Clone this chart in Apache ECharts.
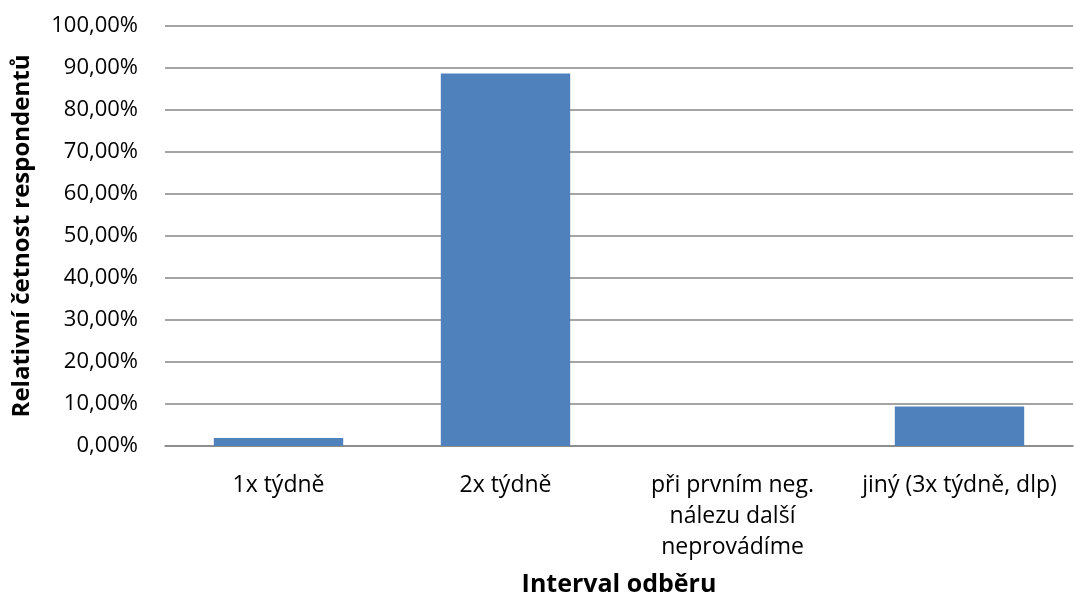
<!DOCTYPE html>
<html>
<head>
<meta charset="utf-8">
<script src="https://cdn.jsdelivr.net/npm/echarts@6/dist/echarts.min.js"></script>
<style>html,body{margin:0;padding:0;background:#fff}#c{width:1074px;height:599px}</style>
</head>
<body>
<div id="c"></div>
<script>
const categories = ["1x týdně", "2x týdně", "při prvním neg.\nnálezu další\nneprovádíme", "jiný (3x týdně, dlp)"];
const values = [1.89, 88.68, 0, 9.43];
const yTitle = "Relativní četnost respondentů";
const xTitle = "Interval odběru";

const FONT = "Open Sans";
const chart = echarts.init(document.getElementById('c'));
chart.setOption({
  animation: false,
  grid: {left: 165, right: 1, top: 26, bottom: 153, outerBoundsMode: 'none', containLabel: false},
  xAxis: {
    type: 'category', data: categories,
    name: xTitle, nameLocation: 'middle', nameGap: 126,
    nameTextStyle: {fontFamily: FONT, fontWeight: 'bold', fontSize: 25, color: '#000'},
    axisLine: {lineStyle: {color: '#868686', width: 1.5}},
    axisTick: {show: false},
    axisLabel: {fontFamily: FONT, fontSize: 23, color: '#000', margin: 24, lineHeight: 31, interval: 0}
  },
  yAxis: {
    type: 'value', min: 0, max: 100, interval: 10,
    name: yTitle, nameLocation: 'middle', nameGap: 131, nameRotate: 90,
    nameTextStyle: {fontFamily: FONT, fontWeight: 'bold', fontSize: 24, color: '#000'},
    axisLine: {show: false},
    axisTick: {show: false},
    splitLine: {lineStyle: {color: '#868686', width: 1.5}},
    axisLabel: {fontFamily: FONT, fontSize: 22, color: '#000', margin: 27,
      formatter: v => v.toFixed(2).replace('.', ',') + '%'}
  },
  series: [{
    type: 'bar', data: values, barCategoryGap: '43%',
    itemStyle: {color: '#4F81BD'}
  }]
});
</script>
</body>
</html>
